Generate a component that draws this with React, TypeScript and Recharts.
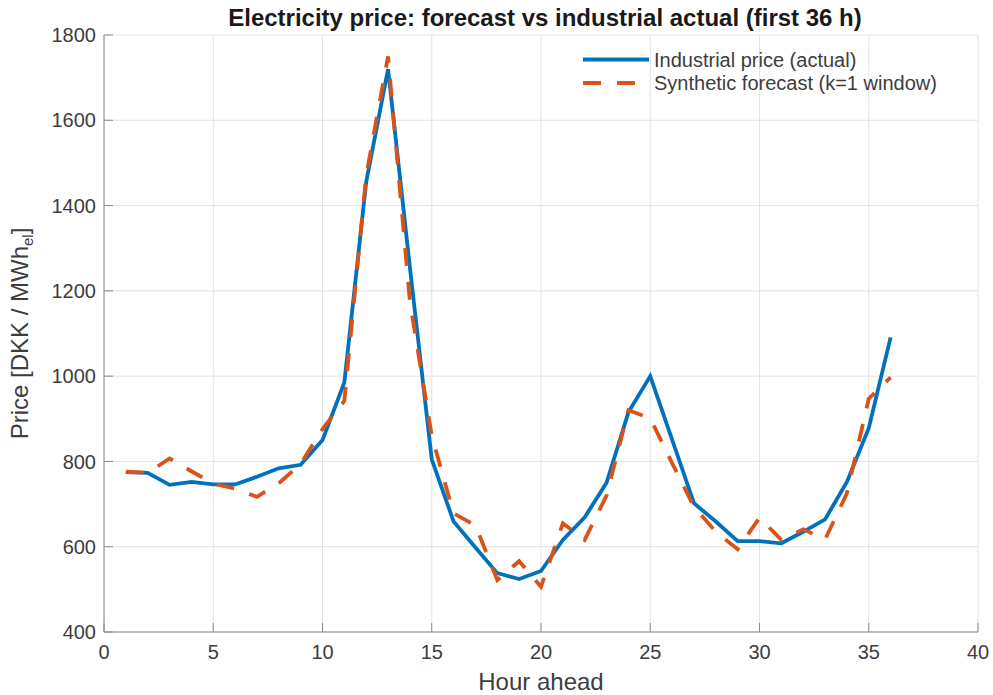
import React from 'react';
import { LineChart, Line, XAxis, YAxis, CartesianGrid, Legend } from 'recharts';

const hours = [1, 2, 3, 4, 5, 6, 7, 8, 9, 10, 11, 12, 13, 14, 15, 16, 17, 18, 19, 20, 21, 22, 23, 24, 25, 26, 27, 28, 29, 30, 31, 32, 33, 34, 35, 36];
const actualPrice = [775, 773, 745, 752, 746, 746, 764, 784, 792, 850, 985, 1455, 1720, 1255, 805, 659, 598, 538, 524, 543, 616, 669, 750, 915, 1000, 851, 702, 659, 613, 613, 608, 635, 664, 752, 878, 1091];
const forecastPrice = [776, 773, 807, 777, 748, 736, 717, 749, 794, 876, 942, 1470, 1750, 1175, 860, 678, 650, 522, 566, 506, 655, 616, 720, 920, 901, 796, 694, 635, 594, 668, 616, 641, 617, 725, 947, 997];
const xTicks = [0, 5, 10, 15, 20, 25, 30, 35, 40];
const yTicks = [400, 600, 800, 1000, 1200, 1400, 1600, 1800];
const seriesNames = ['Industrial price (actual)', 'Synthetic forecast (k=1 window)'];
const titleText = 'Electricity price: forecast vs industrial actual (first 36 h)';
const xLabelText = 'Hour ahead';

const data = hours.map((h, i) => ({ h, actual: actualPrice[i], forecast: forecastPrice[i] }));

const W = 993;
const H = 695;
const FONT = '"Liberation Sans", Arial, Helvetica, sans-serif';
const TEXT = '#3d3d3d';
const AXIS = '#8a8a8a';
const GRID = '#e3e3e3';
const BLUE = '#0072BD';
const ORANGE = '#D95319';
const LW = 3.8;
const DASH = '18 16';

const XTick = (props: any) => {
  const { x, y, payload } = props;
  return (
    <g>
      <line x1={x} x2={x} y1={y - 13} y2={y - 22} stroke={AXIS} strokeWidth={1} />
      <text x={x} y={y} dy="0.71em" textAnchor="middle" fontSize={20} fill={TEXT} fontFamily={FONT}>
        {payload.value}
      </text>
    </g>
  );
};

const YTick = (props: any) => {
  const { x, y, payload } = props;
  return (
    <g>
      <line x1={x + 8} x2={x + 17} y1={y} y2={y} stroke={AXIS} strokeWidth={1} />
      <text x={x} y={y} dy="0.355em" textAnchor="end" fontSize={20} fill={TEXT} fontFamily={FONT}>
        {payload.value}
      </text>
    </g>
  );
};

const YLabel = (props: any) => {
  const vb = props.viewBox || { x: 0, y: 35, width: 104, height: 597 };
  const cx = 28;
  const cy = vb.y + vb.height / 2;
  return (
    <text
      transform={`rotate(-90 ${cx} ${cy})`}
      x={cx}
      y={cy}
      textAnchor="middle"
      fontSize={24}
      fill={TEXT}
      fontFamily={FONT}
    >
      Price [DKK / MWh<tspan fontSize={15} dy={5}>el</tspan><tspan dy={-5}>]</tspan>
    </text>
  );
};

const XLabel = (props: any) => {
  const vb = props.viewBox || { x: 104, y: 632, width: 874, height: 63 };
  return (
    <text x={vb.x + vb.width / 2} y={vb.y + 58} textAnchor="middle" fontSize={24} fill={TEXT} fontFamily={FONT}>
      {xLabelText}
    </text>
  );
};

const LegendBox = () => (
  <svg width={390} height={60} style={{ display: 'block', overflow: 'visible' }}>
    <line x1={8} x2={74} y1={19.5} y2={19.5} stroke={BLUE} strokeWidth={LW} />
    <text x={79} y={26.5} fontSize={20} fill={TEXT} fontFamily={FONT}>{seriesNames[0]}</text>
    <line x1={8} x2={74} y1={43} y2={43} stroke={ORANGE} strokeWidth={LW} strokeDasharray={DASH} />
    <text x={79} y={50} fontSize={20} fill={TEXT} fontFamily={FONT}>{seriesNames[1]}</text>
  </svg>
);

export default function App() {
  return (
    <div style={{ position: 'absolute', left: 0, top: 0, width: W, height: H, background: '#ffffff', fontFamily: FONT }}>
      <svg width={W} height={40} style={{ position: 'absolute', left: 0, top: 0, pointerEvents: 'none' }}>
        <text x={545} y={26} textAnchor="middle" fontSize={24} fontWeight="bold" fill="#1a1a1a" fontFamily={FONT}>
          {titleText}
        </text>
      </svg>
      <LineChart width={W} height={H} data={data} margin={{ top: 35, right: 15, bottom: 0, left: 0 }}>
        <CartesianGrid stroke={GRID} strokeWidth={1} horizontalValues={yTicks} verticalValues={xTicks} />
        <XAxis
          type="number"
          dataKey="h"
          domain={[0, 40]}
          ticks={xTicks}
          interval={0}
          height={63}
          tickSize={0}
          tickMargin={13}
          tickLine={false}
          axisLine={{ stroke: AXIS, strokeWidth: 1 }}
          tick={<XTick />}
          label={<XLabel />}
        />
        <YAxis
          type="number"
          domain={[400, 1800]}
          ticks={yTicks}
          interval={0}
          width={104}
          tickSize={0}
          tickMargin={8}
          tickLine={false}
          axisLine={{ stroke: AXIS, strokeWidth: 1 }}
          tick={<YTick />}
          label={<YLabel />}
        />
        <Legend
          layout="vertical"
          align="center"
          verticalAlign="middle"
          content={() => <LegendBox />}
          wrapperStyle={{ position: 'absolute', left: 575, top: 40, width: 390, height: 60 }}
        />
        <Line
          type="linear"
          dataKey="actual"
          name={seriesNames[0]}
          stroke={BLUE}
          strokeWidth={LW}
          dot={false}
          activeDot={false}
          isAnimationActive={false}
        />
        <Line
          type="linear"
          dataKey="forecast"
          name={seriesNames[1]}
          stroke={ORANGE}
          strokeWidth={LW}
          strokeDasharray={DASH}
          dot={false}
          activeDot={false}
          isAnimationActive={false}
        />
      </LineChart>
    </div>
  );
}
